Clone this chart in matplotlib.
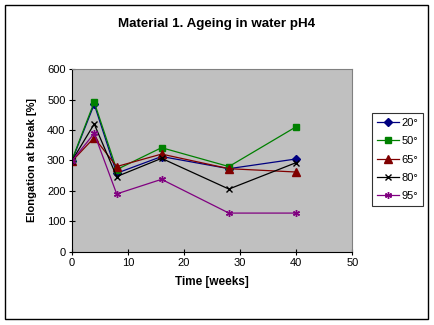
import matplotlib
matplotlib.use("Agg")
import matplotlib.pyplot as plt
from matplotlib.patches import Rectangle

plt.rcParams['font.family'] = ['Liberation Sans', 'DejaVu Sans']

weeks = [0, 4, 8, 16, 28, 40]
t20 = [298, 485, 258, 313, 273, 305]
t50 = [300, 492, 270, 342, 280, 411]
t65 = [297, 375, 280, 321, 273, 262]
t80 = [298, 420, 247, 307, 206, 293]
t95 = [298, 389, 190, 238, 127, 127]
labels = ['20°', '50°', '65°', '80°', '95°']

fig = plt.figure(figsize=(4.35, 3.25), dpi=100)
fig.patches.append(Rectangle((5 / 435, 1 - 319 / 325), 423 / 435, 314 / 325,
                             transform=fig.transFigure, fill=False,
                             edgecolor='black', linewidth=1))

ax = fig.add_axes([0.165, 0.2255, 0.645, 0.5615])
ax.set_facecolor('#C0C0C0')

ax.plot(weeks, t20, color='#000080', marker='D', markersize=4, lw=0.9, label=labels[0])
ax.plot(weeks, t50, color='#008000', marker='s', markersize=5, lw=0.9, label=labels[1])
ax.plot(weeks, t65, color='#800000', marker='^', markersize=5.5, lw=0.9, label=labels[2])
ax.plot(weeks, t80, color='black', marker='x', markersize=5, lw=0.9, label=labels[3])
ax.plot(weeks, t95, color='#800080', marker=(6, 2, 0), markersize=5, lw=0.9, label=labels[4])

ax.set_xlim(0, 50)
ax.set_ylim(0, 600)
ax.set_xticks(range(0, 51, 10))
ax.set_yticks(range(0, 601, 100))
ax.tick_params(direction='inout', length=5, width=0.8, labelsize=8, pad=2)
for s in ['top', 'right']:
    ax.spines[s].set_color('#808080')
    ax.spines[s].set_linewidth(0.8)

ax.set_xlabel('Time [weeks]', fontsize=8.5, fontweight='bold', labelpad=6)
ax.set_ylabel('Elongation at break [%]', fontsize=8, fontweight='bold', labelpad=7)
fig.text(0.498, 1 - 24 / 325, 'Material 1. Ageing in water pH4',
         ha='center', va='center', fontsize=9.6, fontweight='bold')

leg = fig.legend(loc='upper left', bbox_to_anchor=(372 / 435, 1 - 113 / 325),
                 fontsize=8, frameon=True, fancybox=False, edgecolor='black',
                 handlelength=2.0, handletextpad=0.2, borderpad=0.45,
                 borderaxespad=0, labelspacing=0.75)
leg.get_frame().set_linewidth(0.8)

fig.savefig('out.png', dpi=100)
